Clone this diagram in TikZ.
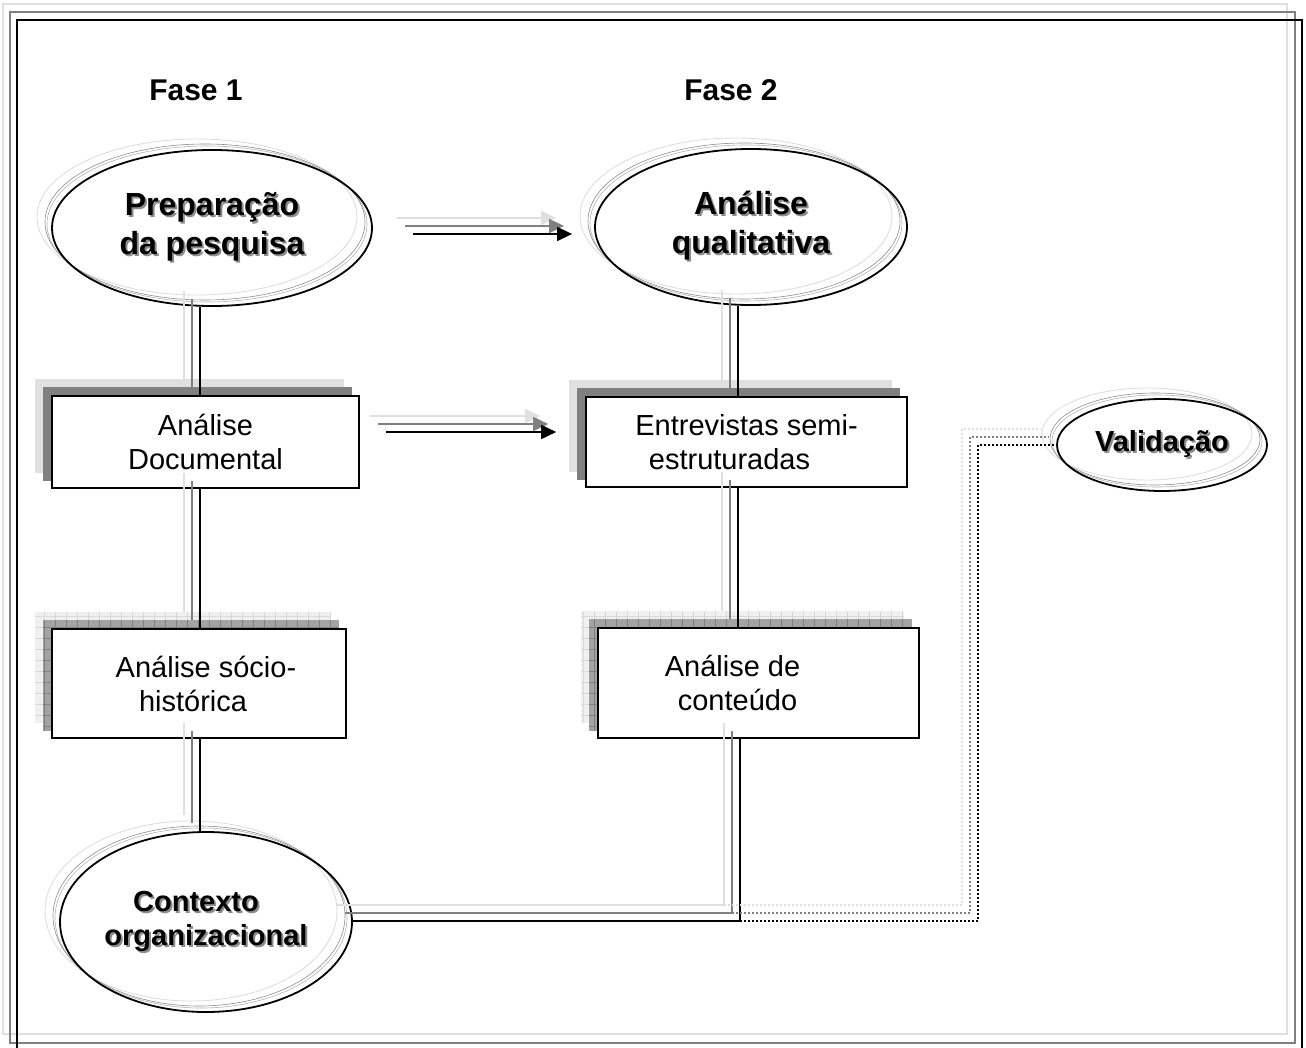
\documentclass[tikz,border=0pt]{standalone}
\usepackage{fontspec}
\setmainfont{Liberation Sans}
\usetikzlibrary{shapes.geometric,arrows.meta,backgrounds}

\colorlet{shlight}{black!12}
\colorlet{shmid}{black!50}

% bold title text with a soft grey drop shadow
\newcommand\shd[1]{\makebox[0pt][l]{\kern2pt\raisebox{-2pt}{\textcolor{black!45}{#1}}}#1}

% a connector drawn as three stacked copies: pale, grey and black
\newcommand\tripleline[2][]{%
  \draw[lightline,#1,transform canvas={shift={(-16,-16)}}] #2;
  \draw[midline,#1,transform canvas={shift={(-8,-8)}}] #2;
  \draw[darkline,#1] #2;}

% flat stacked shadows behind a box
\newcommand\plainshadow[1]{%
  \fill[shlight] ([shift={(-16,-16)}]#1.south west) rectangle ([shift={(-16,-16)}]#1.north east);
  \fill[shmid] ([shift={(-8,-8)}]#1.south west) rectangle ([shift={(-8,-8)}]#1.north east);}

% textured stacked shadows behind a box
\newcommand\gridshadow[1]{%
  \fill[black!6] ([shift={(-16,-16)}]#1.south west) rectangle ([shift={(-16,-16)}]#1.north east);
  \draw[black!15,line width=0.6pt,step=11pt] ([shift={(-16,-16)}]#1.south west) grid ([shift={(-16,-16)}]#1.north east);
  \fill[black!36] ([shift={(-8,-8)}]#1.south west) rectangle ([shift={(-8,-8)}]#1.north east);
  \draw[black!50,line width=0.6pt,step=11pt] ([shift={(-8,-8)}]#1.south west) grid ([shift={(-8,-8)}]#1.north east);}

% faint outline rings behind an oval
\newcommand\rings[3]{%
  \draw[black!13,line width=0.9pt] ([shift={(-15,-11)}]#1.center) ellipse [x radius=#2pt, y radius=#3pt];
  \draw[black!45,line width=0.6pt] ([shift={(-7,-6)}]#1.center) ellipse [x radius=#2pt, y radius=#3pt];
  \draw[black!30,line width=0.6pt] ([shift={(-5,-4)}]#1.center) ellipse [x radius=#2pt, y radius=#3pt];}

\begin{document}
\begin{tikzpicture}[
  x=1pt, y=-1pt,
  boxnode/.style={draw, line width=1.6pt, fill=white, inner sep=0pt, align=center,
                  font=\fontsize{29}{34}\selectfont},
  ovalnode/.style={ellipse, draw, line width=1.8pt, inner sep=0pt, align=center,
                   font=\fontsize{29}{34}\selectfont\bfseries},
  bigoval/.style={ovalnode, font=\fontsize{32}{39}\selectfont\bfseries},
  phase/.style={inner sep=0pt, font=\fontsize{30}{36}\selectfont\bfseries},
  darkline/.style={line width=1.7pt, black},
  midline/.style={line width=1.7pt, shmid},
  lightline/.style={line width=1.7pt, shlight},
  arrowtip/.style={-{Triangle[length=15pt,width=14pt]}},
  dotline/.style={dash pattern=on 1.7pt off 2.3pt},
]
\useasboundingbox (0,0) rectangle (1306,1048);

% phase headings
\node[phase] (f1) at (196,90) {Fase 1};
\node[phase] (f2) at (731,90) {Fase 2};

% ovals
\node[bigoval, minimum width=320pt, minimum height=156pt] (prep) at (212,228)
  {\shd{Preparação}\\\shd{da pesquisa}};
\node[bigoval, minimum width=312pt, minimum height=156pt] (aq) at (751,227)
  {\shd{Análise}\\\shd{qualitativa}};
\node[ovalnode, minimum width=210pt, minimum height=92pt] (val) at (1162,445)
  {\shd{Validação}};
\node[ovalnode, minimum width=292pt, minimum height=180pt] (ctx) at (206,922)
  {\raisebox{-8pt}{\shd{Contexto}\hspace*{20pt}}\\\raisebox{-8pt}{\shd{organizacional}}};

% boxes
\node[boxnode, minimum width=307pt, minimum height=92pt] (doc) at (205.5,442)
  {Análise\\Documental};
\node[boxnode, minimum width=321pt, minimum height=90pt] (ent) at (746.5,442)
  {Entrevistas semi-\\estruturadas\hspace*{34pt}};
\node[boxnode, minimum width=294pt, minimum height=109pt] (soc) at (199,683.5)
  {\hspace*{14pt}Análise sócio-\\histórica\hspace*{12pt}};
\node[boxnode, minimum width=321pt, minimum height=110pt] (cont) at (758.5,683)
  {Análise de\hspace*{52pt}\\conteúdo\hspace*{42pt}};

\begin{scope}[on background layer]
  % page frame
  \draw[lightline] (3,4) rectangle (1287,1034);
  \draw[midline] (10,12) rectangle (1295,1043);
  \draw[darkline] (17,20) rectangle (1302,1070);
  % shadows
  \plainshadow{doc}
  \plainshadow{ent}
  \gridshadow{soc}
  \gridshadow{cont}
  \rings{prep}{160}{78}
  \rings{aq}{156}{78}
  \rings{val}{105}{46}
  \rings{ctx}{146}{90}
\end{scope}

% helper positions for the connector routes
\coordinate (colA) at (200,0);
\coordinate (colB) at (738,0);
\coordinate (knee) at (740,921);
\coordinate (turn) at (978,0);
\coordinate (rowA) at (0,234);
\coordinate (rowB) at (0,432);

% vertical links
\tripleline{(prep.south -| colA) -- (doc.north -| colA)}
\tripleline{(doc.south -| colA) -- (soc.north -| colA)}
\tripleline{(soc.south -| colA) -- (ctx.north -| colA)}
\tripleline{(aq.south -| colB) -- (ent.north -| colB)}
\tripleline{(ent.south -| colB) -- (cont.north -| colB)}
\tripleline{(cont.south -| knee) -- (knee) -- (ctx.east |- knee)}

% arrows from phase 1 to phase 2
\tripleline[arrowtip, shorten <=40pt, shorten >=22pt]{(prep.east |- rowA) -- (aq.west |- rowA)}
\tripleline[arrowtip, shorten <=26pt, shorten >=29pt]{(doc.east |- rowB) -- (ent.west |- rowB)}

% dotted link to validation
\tripleline[dotline]{(knee) -- (knee -| turn) -- (turn |- val.west) -- (val.west)}
\end{tikzpicture}
\end{document}
